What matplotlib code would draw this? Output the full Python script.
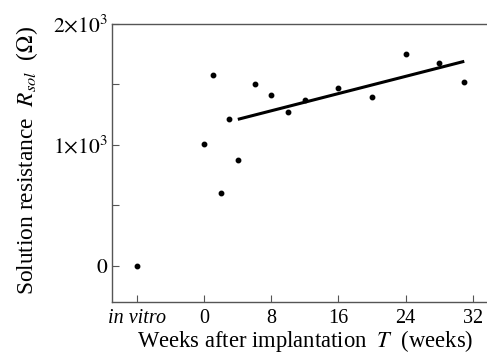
import numpy as np
import matplotlib
matplotlib.use("Agg")
import matplotlib.pyplot as plt

plt.rcParams["font.family"] = "Liberation Serif"
plt.rcParams["mathtext.fontset"] = "stix"
plt.rcParams["font.size"] = 14.5

# data ("in vitro" drawn at x=-8)
weeks = [-8, 0, 1, 2, 3, 4, 6, 8, 10, 12, 16, 20, 24, 28, 31]
rsol = [0, 1010, 1575, 603, 1216, 874, 1501, 1408, 1268, 1367, 1468, 1397, 1748, 1676, 1523]

fit_x = [4, 31]
fit_y = [1210, 1690]

xticks = [-8, 0, 8, 16, 24, 32]
xticklabels = ["in vitro", "0", "8", "16", "24", "32"]
yticks = [0, 1000, 2000]
yticklabels = [r"$0$", r"$1{\times}10^3$", r"$2{\times}10^3$"]

fig = plt.figure(figsize=(4.87, 3.56), dpi=100)
ax = fig.add_axes([0.230, 0.152, 0.775, 0.781])

ax.plot(weeks, rsol, "o", color="black", markersize=3.2)
ax.plot(fit_x, fit_y, "-", color="black", linewidth=2.2, solid_capstyle="butt")

ax.set_xlim(-11, 34)
ax.set_ylim(-300, 2000)
ax.set_xticks(xticks)
ax.set_xticklabels(xticklabels)
ax.get_xticklabels()[0].set_style("italic")
ax.set_yticks(yticks)
ax.set_yticklabels(yticklabels, fontsize=15.5)
ax.set_yticks([500, 1500], minor=True)

ax.tick_params(direction="in", length=5, width=0.8, color="#555555")
ax.tick_params(which="minor", direction="in", length=5, width=0.8, color="#555555")
ax.tick_params(axis="x", pad=5)
ax.tick_params(axis="y", pad=3)

for s in ["left", "top", "bottom"]:
    ax.spines[s].set_color("#555555")
    ax.spines[s].set_linewidth(1.0)
ax.spines["right"].set_visible(False)

ax.set_xlabel(r"Weeks after implantation  $T$  (weeks)", fontsize=16.3)
ax.xaxis.set_label_coords(0.511, -0.095, transform=ax.transAxes)
ax.xaxis.label.set_verticalalignment("top")
ax.set_ylabel(r"Solution resistance  $R_{sol}$  ($\Omega$)", fontsize=16.8)
ax.yaxis.set_label_coords(-0.19, 0.51)

fig.savefig("out.png", dpi=100)
